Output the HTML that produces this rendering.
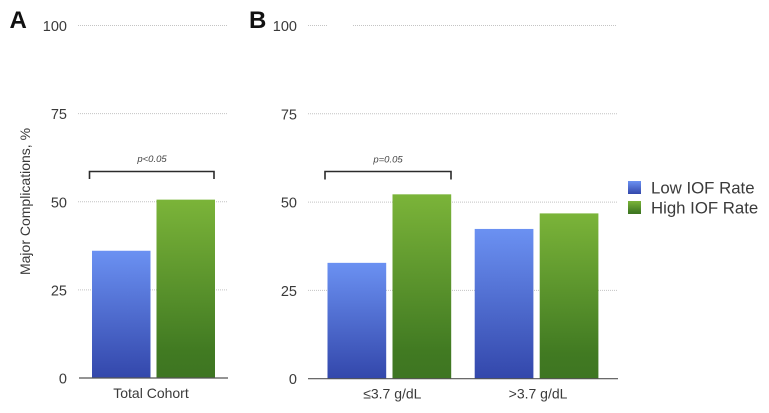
<!DOCTYPE html>
<html lang="en">
<head>
<meta charset="utf-8">
<title>Major Complications by IOF Rate</title>
<style>
html,body{margin:0;padding:0;background:#fff;width:769px;height:413px;overflow:hidden}
svg{display:block;font-family:"Liberation Sans",sans-serif;filter:blur(0.35px)}
</style>
</head>
<body>
<svg id="chart" xmlns="http://www.w3.org/2000/svg" width="769" height="413" viewBox="0 0 769 413">
  <defs>
    <linearGradient id="gradLow" x1="0" y1="0" x2="0" y2="1">
      <stop offset="0" stop-color="#6b91f2"/>
      <stop offset="1" stop-color="#3347ab"/>
    </linearGradient>
    <linearGradient id="gradHigh" x1="0" y1="0" x2="0" y2="1">
      <stop offset="0" stop-color="#7bb439"/>
      <stop offset="0.85" stop-color="#417a22"/>
      <stop offset="1" stop-color="#3e7522"/>
    </linearGradient>
  </defs>
  <g id="layer"></g>
  <text x="9.500" y="28" font-size="24" font-weight="bold" fill="#111">A</text>
  <text x="249" y="28" font-size="24" font-weight="bold" fill="#111">B</text>
  <text transform="translate(30 201.5) rotate(-90)" text-anchor="middle" font-size="14" fill="#3a3a3a">Major Complications, %</text>

  <path d="M89.5 179V171.5H214V179" fill="none" stroke="#2b2b2b" stroke-width="1.6"/>
  <text x="152" y="162" text-anchor="middle" font-size="9.500" font-style="italic" fill="#444">p&lt;0.05</text>
  <path d="M325 179.5V171.5H451V179.5" fill="none" stroke="#2b2b2b" stroke-width="1.6"/>
  <text x="388" y="162.500" text-anchor="middle" font-size="9.500" font-style="italic" fill="#444">p=0.05</text>

  <g>
    <rect x="628" y="181" width="13" height="13" fill="url(#gradLow)"/>
    <text x="651" y="193.500" font-size="16.800" fill="#3a3a3a">Low IOF Rate</text>
    <rect x="628" y="201" width="13" height="13" fill="url(#gradHigh)"/>
    <text x="651" y="213.500" font-size="16.800" fill="#3a3a3a">High IOF Rate</text>
  </g>
</svg>
<script>
const yTicks = [0, 25, 50, 75, 100];
const categoriesA = ["Total Cohort"];
const lowRateA = [36.1];
const highRateA = [50.6];
const categoriesB = ["\u22643.7 g/dL", ">3.7 g/dL"];
const lowRateB = [32.8, 42.4];
const highRateB = [52.2, 46.8];

const NS = "http://www.w3.org/2000/svg";
const layer = document.getElementById("layer");

function make(tag, attrs, text) {
  const el = document.createElementNS(NS, tag);
  for (const k in attrs) el.setAttribute(k, attrs[k]);
  if (text !== undefined) el.textContent = text;
  layer.appendChild(el);
  return el;
}

function yScale(panel, v) {
  return panel.y0 + (panel.y100 - panel.y0) * v / 100;
}

function groupStart(panel, i) {
  return panel.firstBar + i * panel.groupStep;
}

function drawPanel(panel) {
  yTicks.forEach(function (t) {
    const y = yScale(panel, t);
    const label = make("text", {
      x: panel.tickX, y: y + 5.5, "text-anchor": "end",
      "font-size": 14.5, fill: "#3a3a3a"
    }, String(t));
    
    
    if (t === 0) return;
    panel.gridSpans(t).forEach(function (span) {
      const grid = make("line", {
        x1: span[0], x2: span[1], y1: y, y2: y,
        stroke: "#c4c4c4", "stroke-width": 1, "stroke-dasharray": "1 1"
      });
      
      
    });
  });

  panel.categories.forEach(function (cat, i) {
    const start = groupStart(panel, i);
    const lowTop = yScale(panel, panel.low[i]);
    const highTop = yScale(panel, panel.high[i]);
    const lowBar = make("rect", {
      x: start, y: lowTop, width: panel.barW, height: panel.y0 - lowTop,
      fill: "url(#gradLow)"
    });
    
    
    const highBar = make("rect", {
      x: start + panel.barW + panel.barGap, y: highTop,
      width: panel.barW, height: panel.y0 - highTop,
      fill: "url(#gradHigh)"
    });
    
    
    const catLabel = make("text", {
      x: start + panel.barW + panel.barGap / 2 + panel.labelShift(i), y: panel.y0 + 20,
      "text-anchor": "middle", "font-size": 14, fill: "#3a3a3a"
    }, cat);
    
    
  });

  const axis = make("line", {
    x1: panel.axisX0, x2: panel.axisX1, y1: panel.y0, y2: panel.y0,
    stroke: "#555", "stroke-width": 1.2
  });
  
  
}

drawPanel({
  categories: categoriesA, low: lowRateA, high: highRateA,
  y0: 378, y100: 25.5, tickX: 67, axisX0: 79, axisX1: 228,
  firstBar: 92, barW: 58.5, barGap: 6, groupStep: 0,
  labelShift: function () { return -2.5; },
  gridSpans: function () { return [[78, 227]]; }
});

drawPanel({
  categories: categoriesB, low: lowRateB, high: highRateB,
  y0: 378.7, y100: 25.5, tickX: 297, axisX0: 308, axisX1: 618,
  firstBar: 327.5, barW: 58.7, barGap: 6.3, groupStep: 147.2,
  labelShift: function (i) { return i === 0 ? 3 : 1.5; },
  gridSpans: function (t) {
    return t === 100 ? [[308, 328], [353, 617]] : [[308, 617]];
  }
});
</script>
</body>
</html>
